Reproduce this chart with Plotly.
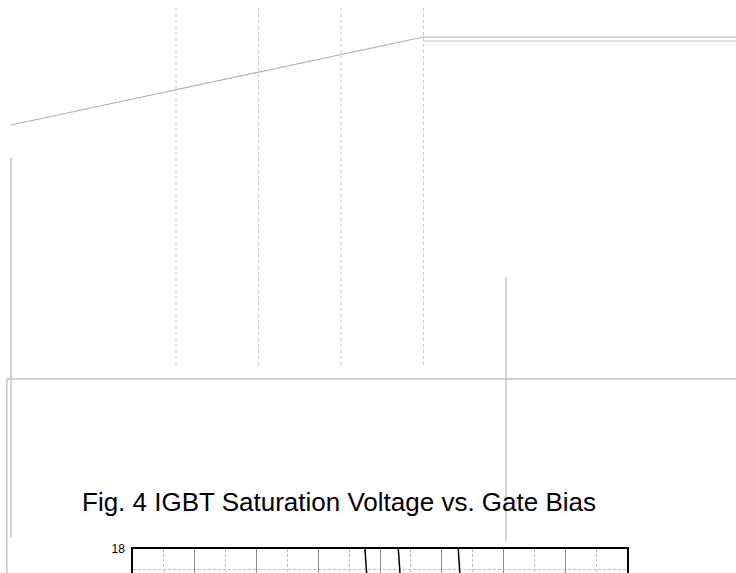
import plotly.graph_objects as go

# ---- faint figure printed above (grey curve, dotted grid, frame rules) ----
upper_curve_x = [0.0, 5.0, 8.8]
upper_curve_y = [6.0, 8.2, 8.2]
upper_curve2_x = [5.0, 8.8]
upper_curve2_y = [8.1, 8.1]
upper_grid_x = [2, 3, 4, 5]
upper_grid_span = [0.0, 9.0]
rule_left_x = [0.0, 0.0]
rule_left_y = [5.2, -4.3]
rule_horiz_x = [-0.05, 8.8]
rule_horiz_y = [-0.35, -0.35]
rule_edge_x = [-0.05, -0.05]
rule_edge_y = [-0.35, -5.2]
rule_mid_x = [6.0, 6.0]
rule_mid_y = [2.2, -4.4]

# ---- Fig. 4: VCE(sat) vs. VGE, top strip of the plot ----
vge_range = [4, 20]
vce_range = [16.8, 18]
vce_ticks = [18]
curve_a_x = [11.50, 11.58]
curve_a_y = [18.3, 16.5]
curve_b_x = [12.58, 12.66]
curve_b_y = [18.3, 16.5]
curve_c_x = [14.52, 14.60]
curve_c_y = [18.3, 16.5]

title_text = "Fig. 4 IGBT Saturation Voltage vs. Gate Bias"

FONT = "Liberation Sans, Arial, Helvetica, sans-serif"
FAINT = "#c2c2c2"

fig = go.Figure()

# faint upper figure
fig.add_trace(go.Scatter(x=upper_curve_x, y=upper_curve_y, mode="lines",
                         line=dict(color="#b2b2b2", width=1.2),
                         xaxis="x", yaxis="y", hoverinfo="skip"))
fig.add_trace(go.Scatter(x=upper_curve2_x, y=upper_curve2_y, mode="lines",
                         line=dict(color="#c4c4c4", width=1.2),
                         xaxis="x", yaxis="y", hoverinfo="skip"))
for gx in upper_grid_x:
    fig.add_trace(go.Scatter(x=[gx, gx], y=upper_grid_span, mode="lines",
                             line=dict(color="#c8c8c8", width=1, dash="3px,3px"),
                             xaxis="x", yaxis="y", hoverinfo="skip"))
for rx, ry in [(rule_left_x, rule_left_y), (rule_horiz_x, rule_horiz_y),
               (rule_edge_x, rule_edge_y), (rule_mid_x, rule_mid_y)]:
    fig.add_trace(go.Scatter(x=rx, y=ry, mode="lines",
                             line=dict(color=FAINT, width=1.4),
                             xaxis="x", yaxis="y", hoverinfo="skip"))

# Fig. 4 curves
for cx, cy in [(curve_a_x, curve_a_y), (curve_b_x, curve_b_y), (curve_c_x, curve_c_y)]:
    fig.add_trace(go.Scatter(x=cx, y=cy, mode="lines",
                             line=dict(color="#000000", width=1.5),
                             xaxis="x2", yaxis="y2", hoverinfo="skip"))

W, H = 736, 573
fig.update_layout(
    width=W, height=H,
    margin=dict(l=0, r=0, t=0, b=0, pad=0, autoexpand=False),
    paper_bgcolor="white", plot_bgcolor="rgba(0,0,0,0)",
    showlegend=False,
    font=dict(family=FONT, color="#000000"),
    xaxis=dict(domain=[0, 1], range=[-11 / 82.5, 725 / 82.5], visible=False,
               fixedrange=True, automargin=False),
    yaxis=dict(domain=[0, 1], range=[-5.2, 9.125], visible=False, fixedrange=True,
               automargin=False),
    xaxis2=dict(domain=[133 / W, 627 / W], range=vge_range, anchor="y2",
                side="top", showline=True, linecolor="#000000", linewidth=1.5,
                mirror=False, ticks="", showticklabels=False, zeroline=False,
                automargin=False,
                tick0=4, dtick=2, showgrid=True, gridcolor="#8f8f8f", gridwidth=1,
                minor=dict(tick0=4, dtick=1, showgrid=True, griddash="3px,2px",
                           gridcolor="#bdbdbd", gridwidth=1)),
    yaxis2=dict(domain=[0, 24 / H], range=vce_range, anchor="x2",
                showline=True, linecolor="#000000", linewidth=1.5, mirror=True,
                ticks="", tickvals=vce_ticks, ticklabelstandoff=4,
                automargin=False,
                tickfont=dict(family=FONT, size=12, color="#000000"),
                zeroline=False, showgrid=False,
                minor=dict(tickvals=[17], showgrid=True, griddash="3px,2px",
                           gridcolor="#bdbdbd", gridwidth=1)),
    annotations=[dict(text=title_text, x=80 / W, y=1 - 502 / H,
                      xref="paper", yref="paper", xanchor="left", yanchor="middle",
                      showarrow=False,
                      font=dict(family=FONT, size=26, color="#000000"))],
)

fig.write_html("out.html")
